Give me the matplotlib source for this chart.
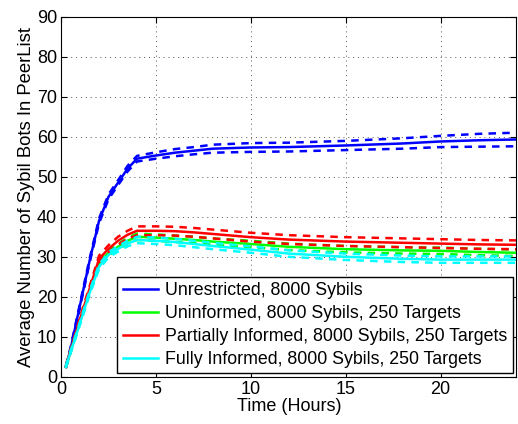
import matplotlib
matplotlib.use("Agg")
import matplotlib.pyplot as plt
import numpy as np

plt.rcParams['font.family'] = ['Liberation Sans', 'DejaVu Sans']

# time in hours
t = [0.25, 0.5, 1, 1.5, 2, 2.5, 3, 3.5, 4, 5, 6, 7, 8, 10, 12, 15, 18, 20, 22, 24]

# mean number of sybil bots in peerlist
unrestricted = [2.5, 7, 18, 29, 39, 45, 48.5, 52, 54.5, 55.3, 56, 56.5, 57, 57.3, 57.4, 57.8, 58.3, 58.8, 59.1, 59.3]
uninformed = [2.5, 6.5, 14, 21.5, 28.5, 31, 32.5, 34, 35, 34.8, 34.5, 34.2, 33.8, 33.2, 32.5, 31.9, 31.6, 31.5, 31.2, 31]
partial = [2.5, 6.5, 14.5, 22, 29.5, 32, 34, 35.5, 36.5, 36.5, 36.4, 36.1, 35.7, 34.9, 34.3, 33.8, 33.5, 33.3, 33.1, 33]
full = [2.5, 6.2, 13.5, 21, 27.5, 30.5, 32, 33.3, 34.2, 34, 33.7, 33.2, 32.7, 31.8, 30.8, 30, 29.5, 29.3, 29.3, 29.3]

# confidence interval half widths
unrestricted_ci = [0.3, 0.4, 0.5, 0.5, 0.6, 0.6, 0.6, 0.7, 0.7, 0.8, 0.9, 0.9, 1.0, 1.1, 1.1, 1.15, 1.3, 1.4, 1.6, 1.7]
uninformed_ci = [0.2, 0.3, 0.4, 0.5, 0.6, 0.6, 0.7, 0.7, 0.8, 0.8, 0.8, 0.8, 0.8, 0.8, 0.8, 0.8, 0.8, 0.8, 0.8, 0.8]
partial_ci = [0.2, 0.3, 0.5, 0.6, 0.8, 0.9, 1.0, 1.0, 1.1, 1.1, 1.1, 1.1, 1.1, 1.1, 1.1, 1.1, 1.1, 1.1, 1.1, 1.1]
full_ci = [0.2, 0.3, 0.4, 0.5, 0.6, 0.6, 0.7, 0.7, 0.8, 0.8, 0.8, 0.8, 0.8, 0.8, 0.8, 0.8, 0.8, 0.8, 0.8, 0.8]

labels = ["Unrestricted, 8000 Sybils",
          "Uninformed, 8000 Sybils, 250 Targets",
          "Partially Informed, 8000 Sybils, 250 Targets",
          "Fully Informed, 8000 Sybils, 250 Targets"]
colors = ["#0000ff", "#00ff00", "#ff0000", "#00ffff"]

fig = plt.figure(figsize=(5.18, 4.24), dpi=100)
ax = fig.add_axes([0.118, 0.111, 0.879, 0.850])

series = [(unrestricted, unrestricted_ci), (uninformed, uninformed_ci),
          (partial, partial_ci), (full, full_ci)]
tt = np.array(t)
for (m, ci), c, lab in zip(series, colors, labels):
    m = np.array(m)
    ci = np.array(ci)
    ax.plot(tt, m, color=c, lw=1.8, label=lab)
    ax.plot(tt, m + ci, color=c, lw=1.8, ls=(0, (3, 2.5)))
    ax.plot(tt, m - ci, color=c, lw=1.8, ls=(0, (3, 2.5)))

ax.set_xlim(0, 24)
ax.set_ylim(0, 90)
ax.set_xticks([0, 5, 10, 15, 20])
ax.set_yticks(range(0, 91, 10))
ax.grid(True, ls=(0, (1, 4)), color="#555555", lw=0.7)
ax.tick_params(direction="in", labelsize=13, top=True, right=True, length=4, pad=3)
ax.set_xlabel("Time (Hours)", fontsize=13, labelpad=0)
ax.set_ylabel("Average Number of Sybil Bots In PeerList", fontsize=13.3, labelpad=1)

leg = ax.legend(loc="lower right", fontsize=12.8, fancybox=False, framealpha=1,
                edgecolor="black", borderpad=0.3, labelspacing=0.33,
                handlelength=2.0, handletextpad=0.4, borderaxespad=0.2)
leg.get_frame().set_linewidth(1.0)

fig.savefig("out.png", dpi=100)
